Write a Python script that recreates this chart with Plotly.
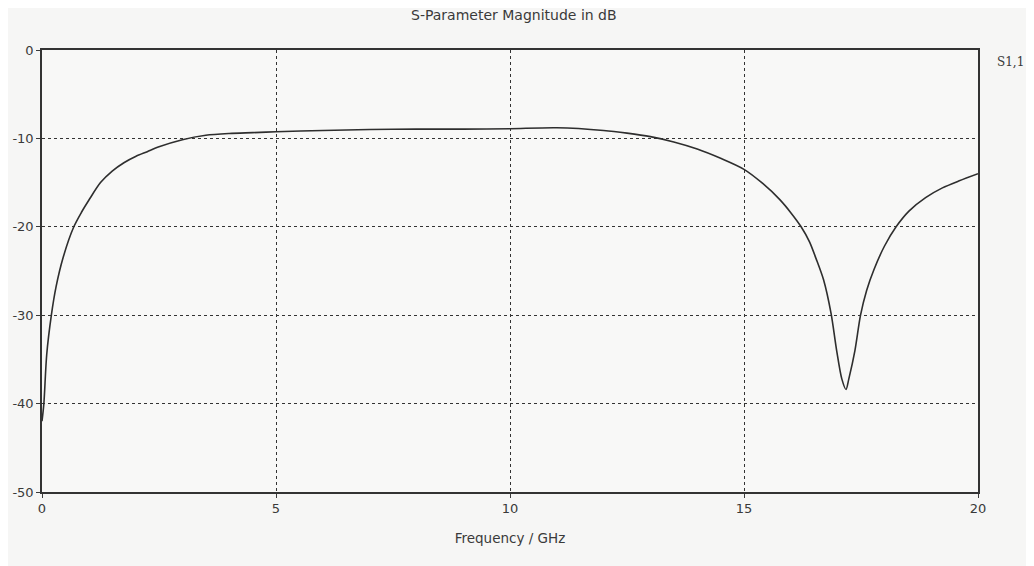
import plotly.graph_objects as go

freq_ghz = [0.00, 0.04, 0.10, 0.20, 0.30, 0.45, 0.68, 0.85, 1.00, 1.25, 1.50, 1.75,
            2.00, 2.25, 2.50, 3.00, 3.50, 4.00, 4.50, 5.00, 6.00, 7.00, 8.00, 9.00,
            10.00, 11.00, 12.00, 12.50, 13.00, 13.50, 14.00, 14.50, 15.00, 15.40,
            15.76, 16.00, 16.22, 16.40, 16.54, 16.70, 16.86, 16.98, 17.09, 17.18,
            17.24, 17.37, 17.49, 17.62, 17.78, 18.00, 18.25, 18.53, 18.88,
            19.24, 19.60, 20.00]
s11_db = [-42.0, -40.0, -34.5, -30.0, -26.8, -23.5, -20.0, -18.3, -17.0, -15.0, -13.7, -12.75,
          -12.05, -11.5, -10.95, -10.15, -9.65, -9.45, -9.35, -9.25, -9.1, -9.0, -8.95, -8.95,
          -8.9, -8.8, -9.1, -9.4, -9.8, -10.4, -11.2, -12.25, -13.5, -15.1,
          -16.9, -18.4, -20.0, -21.7, -23.6, -26.0, -29.8, -34.0, -37.2, -38.4,
          -37.2, -34.0, -30.0, -27.2, -24.8, -22.2, -20.0, -18.2, -16.7,
          -15.6, -14.8, -14.0]

x_ticks = [0, 5, 10, 15, 20]
y_ticks = [0, -10, -20, -30, -40, -50]
y_tick_labels = ["0", "-10", "-20", "-30", "-40", "-50"]

font_main = "DejaVu Sans"
ink = "#3a3a3a"

fig = go.Figure()
fig.add_trace(go.Scatter(x=freq_ghz, y=s11_db, mode="lines",
                         line=dict(color="#2e2e2e", width=1.6, shape="spline", smoothing=0.8),
                         showlegend=False, hoverinfo="skip"))

fig.update_layout(
    width=1026, height=558,
    margin=dict(l=34, r=56, t=42, b=74, autoexpand=False),
    paper_bgcolor="#f6f6f5", plot_bgcolor="#f8f8f7",
    title=dict(text="S-Parameter Magnitude in dB", x=0.493, xanchor="center",
               y=0.988, yanchor="middle", font=dict(family=font_main, size=14, color=ink)),
    font=dict(family=font_main, size=13, color=ink),
    annotations=[dict(text="S1,1", xref="paper", yref="paper", x=1.018, y=0.973,
                      xanchor="left", yanchor="middle", showarrow=False,
                      font=dict(family="DejaVu Serif", size=12, color=ink))],
)
fig.update_xaxes(range=[0, 20], tickvals=x_ticks, ticks="outside", ticklen=4, tickcolor=ink,
                 showgrid=True, gridcolor="#333333", griddash="dot", gridwidth=1,
                 showline=True, linecolor="#333333", linewidth=1.5, mirror=True,
                 zeroline=False, automargin=False,
                 title=dict(text="Frequency / GHz", standoff=18,
                            font=dict(family=font_main, size=13.5, color=ink)))
fig.update_yaxes(range=[-50, 0], tickvals=y_ticks, ticktext=y_tick_labels,
                 ticks="outside", ticklen=4, tickcolor=ink,
                 showgrid=True, gridcolor="#333333", griddash="dot", gridwidth=1,
                 showline=True, linecolor="#333333", linewidth=1.5, mirror=True,
                 zeroline=False, automargin=False)

fig.write_html("out.html")
